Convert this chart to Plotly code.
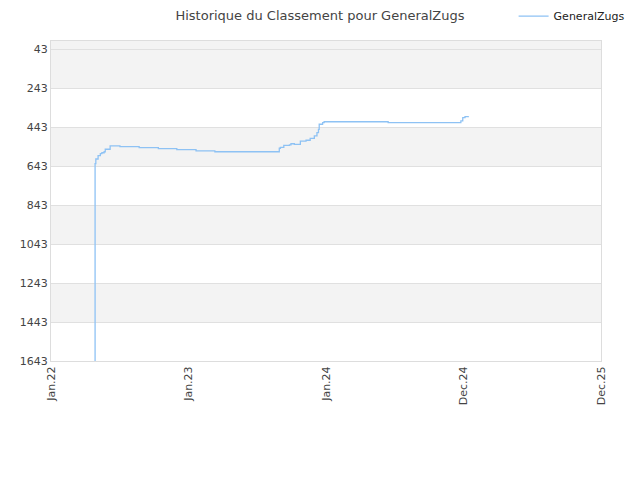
import plotly.graph_objects as go

# historique du classement (date, rang)
dates = [
    "2022-04-27", "2022-04-28", "2022-04-30", "2022-05-06", "2022-05-12",
    "2022-05-16", "2022-05-22", "2022-05-25", "2022-06-07", "2022-07-03",
    "2022-08-23", "2022-10-13", "2022-12-01", "2023-01-21", "2023-03-12",
    "2023-08-30", "2023-09-02", "2023-09-11", "2023-09-26", "2023-09-30",
    "2023-10-09", "2023-10-25", "2023-11-09", "2023-11-20", "2023-12-01",
    "2023-12-08", "2023-12-12", "2023-12-14", "2023-12-23", "2023-12-27",
    "2024-06-14", "2024-12-24", "2024-12-29", "2025-01-04", "2025-01-13",
]
rangs = [
    1643, 631, 607, 590, 580,
    575, 570, 557, 540, 544,
    549, 554, 559, 565, 570,
    552, 547, 537, 535, 529,
    532, 515, 511, 501, 489,
    472, 455, 429, 421, 416,
    421, 412, 395, 390, 388,
]

y_ticks = [43, 243, 443, 643, 843, 1043, 1243, 1443, 1643]
x_ticks = ["2022-01-01", "2023-01-01", "2024-01-01", "2024-12-31", "2025-12-31"]
x_labels = ["Jan.22", "Jan.23", "Jan.24", "Dec.24", "Dec.25"]

fig = go.Figure()
fig.add_trace(go.Scatter(
    x=dates, y=rangs, mode="lines", name="GeneralZugs",
    line=dict(color="#8ec2f4", width=1.3, shape="hv"),
))

# bandes grises alternées
bands = [(2, 243), (443, 643), (843, 1043), (1243, 1443)]
for y0, y1 in bands:
    fig.add_shape(type="rect", xref="paper", yref="y", x0=0, x1=1, y0=y0, y1=y1,
                  fillcolor="#f3f3f3", line_width=0, layer="below")

fig.update_layout(
    width=640, height=480,
    paper_bgcolor="white", plot_bgcolor="white",
    margin=dict(l=43, r=47, t=33, b=127, autoexpand=False),
    font=dict(family="DejaVu Sans", size=11, color="#444"),
    title=dict(text="Historique du Classement pour GeneralZugs", x=0.4875, xanchor="center",
               y=0.985, yanchor="middle", font=dict(size=13, color="#444")),
    showlegend=True,
    legend=dict(orientation="h", x=1.052, xanchor="right", y=1.078, yanchor="middle",
                font=dict(size=11, color="#222"), bgcolor="rgba(0,0,0,0)"),
)
fig.update_xaxes(
    range=["2022-01-01", "2025-12-31"], tickvals=x_ticks, ticktext=x_labels,
    tickangle=-90, showgrid=False, showline=True, linecolor="#ddd", mirror=True,
    ticks="", zeroline=False, tickfont=dict(size=11, color="#444"),
)
fig.update_yaxes(
    range=[1643, 2], tickvals=y_ticks, showgrid=True, gridcolor="#e0e0e0",
    showline=True, linecolor="#ddd", mirror=True, zeroline=False, ticks="",
    tickfont=dict(size=11, color="#444"),
)

fig.write_html("out.html")
